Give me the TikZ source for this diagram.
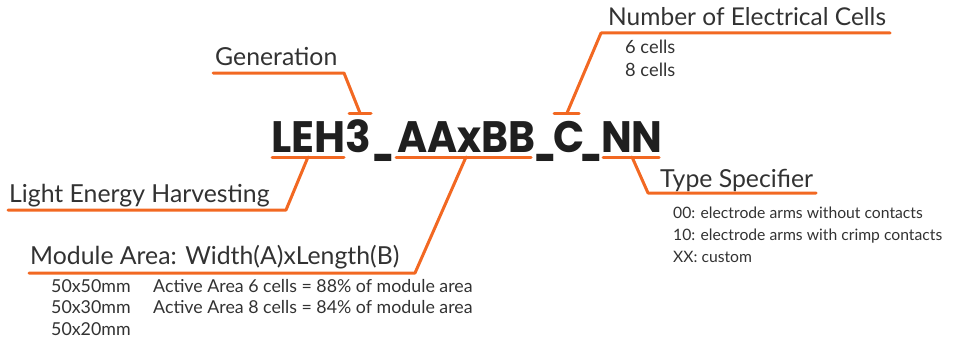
\documentclass[tikz,border=0pt]{standalone}
\usepackage{fontspec}
\setmainfont{Lato}
\newfontfamily\codefont{Poppins}
\definecolor{orng}{RGB}{242,104,34}
\definecolor{txt}{RGB}{50,50,50}
\newcommand\usc[2][c]{\makebox[#2][#1]{\scalebox{0.62}[1]{\_}}}
\newcommand\pc[3][0.93]{\makebox[#2][l]{\scalebox{#1}[1]{#3}}}
\tikzset{
  conn/.style={draw=orng, line width=3pt, line cap=round, line join=round},
  lbl/.style={anchor=base west, inner sep=0pt, text=txt, font=\fontsize{24.8}{28}\selectfont},
  small/.style={anchor=base west, inner sep=0pt, text=txt, font=\fontsize{15.7}{18}\selectfont},
  mid/.style={anchor=base west, inner sep=0pt, text=txt, font=\fontsize{17.8}{20}\selectfont},
  big/.style={anchor=base west, inner sep=0pt, text=txt, font=\fontsize{18.3}{20}\selectfont},
}
\begin{document}
\begin{tikzpicture}[x=1pt,y=-1pt]
\useasboundingbox (0,0) rectangle (976,345);
% code
\node[anchor=base west, inner sep=0pt, text=black!88, font=\codefont\bfseries\fontsize{44}{48}\selectfont] (code) at (271,152) {\pc[0.965]{101pt}{LEH3}\usc[l]{25pt}\pc{140pt}{AAxBB}\usc{16pt}\pc{28pt}{C}\usc{20pt}\scalebox{0.93}[1]{NN}};
% labels
\node[lbl] (gen) at (215,66) {Generation};
\node[lbl, font=\fontsize{24.5}{28}\selectfont] (nec) at (608,26) {Number of Electrical Cells};
\node[big] (c6) at (625,54) {6 cells};
\node[big] (c8) at (625,77) {8 cells};
\node[lbl] (leh) at (9,202) {Light Energy Harvesting};
\node[lbl] (ma) at (30,264) {Module Area: Width(A)xLength(B)};
\node[mid] (m1) at (51,292) {50x50mm};
\node[mid] (m2) at (51,313.5) {50x30mm};
\node[mid] (m3) at (51,335) {50x20mm};
\node[mid] (a6) at (153,292) {Active Area 6 cells = 88\% of module area};
\node[mid] (a8) at (153,313.5) {Active Area 8 cells = 84\% of module area};
\node[lbl] (ts) at (660,187) {Type Specifier};
\node[small] (t0) at (673,218) {00: electrode arms without contacts};
\node[small] (t1) at (673,240) {10: electrode arms with crimp contacts};
\node[small] (tx) at (673,262) {XX: custom};
% coordinates
\coordinate (g1) at (213,73); \coordinate (g2) at (344,73); \coordinate (g3) at (360,113);
\coordinate (gl) at (349,113); \coordinate (gr) at (371,113);
\coordinate (n1) at (890,33); \coordinate (n2) at (601,33); \coordinate (n3) at (567,113);
\coordinate (nl) at (554,113); \coordinate (nr) at (579,113);
\coordinate (u1l) at (272,157); \coordinate (u1r) at (344,157);
\coordinate (l1) at (308,157); \coordinate (l2) at (286,210); \coordinate (l3) at (8,210);
\coordinate (u2l) at (396,157); \coordinate (u2r) at (531,157);
\coordinate (m1c) at (466,157); \coordinate (m2c) at (415,273); \coordinate (m3c) at (29,273);
\coordinate (u3l) at (603,157); \coordinate (u3r) at (659,157);
\coordinate (t1c) at (632,157); \coordinate (t2c) at (648,193); \coordinate (t3c) at (816,193);
% connectors
\draw[conn] (g1) -- (g2) -- (g3);
\draw[conn] (gl) -- (gr);
\draw[conn] (n1) -- (n2) -- (n3);
\draw[conn] (nl) -- (nr);
\draw[conn] (u1l) -- (u1r);
\draw[conn] (l1) -- (l2) -- (l3);
\draw[conn] (u2l) -- (u2r);
\draw[conn] (m1c) -- (m2c) -- (m3c);
\draw[conn] (u3l) -- (u3r);
\draw[conn] (t1c) -- (t2c) -- (t3c);
\end{tikzpicture}
\end{document}
